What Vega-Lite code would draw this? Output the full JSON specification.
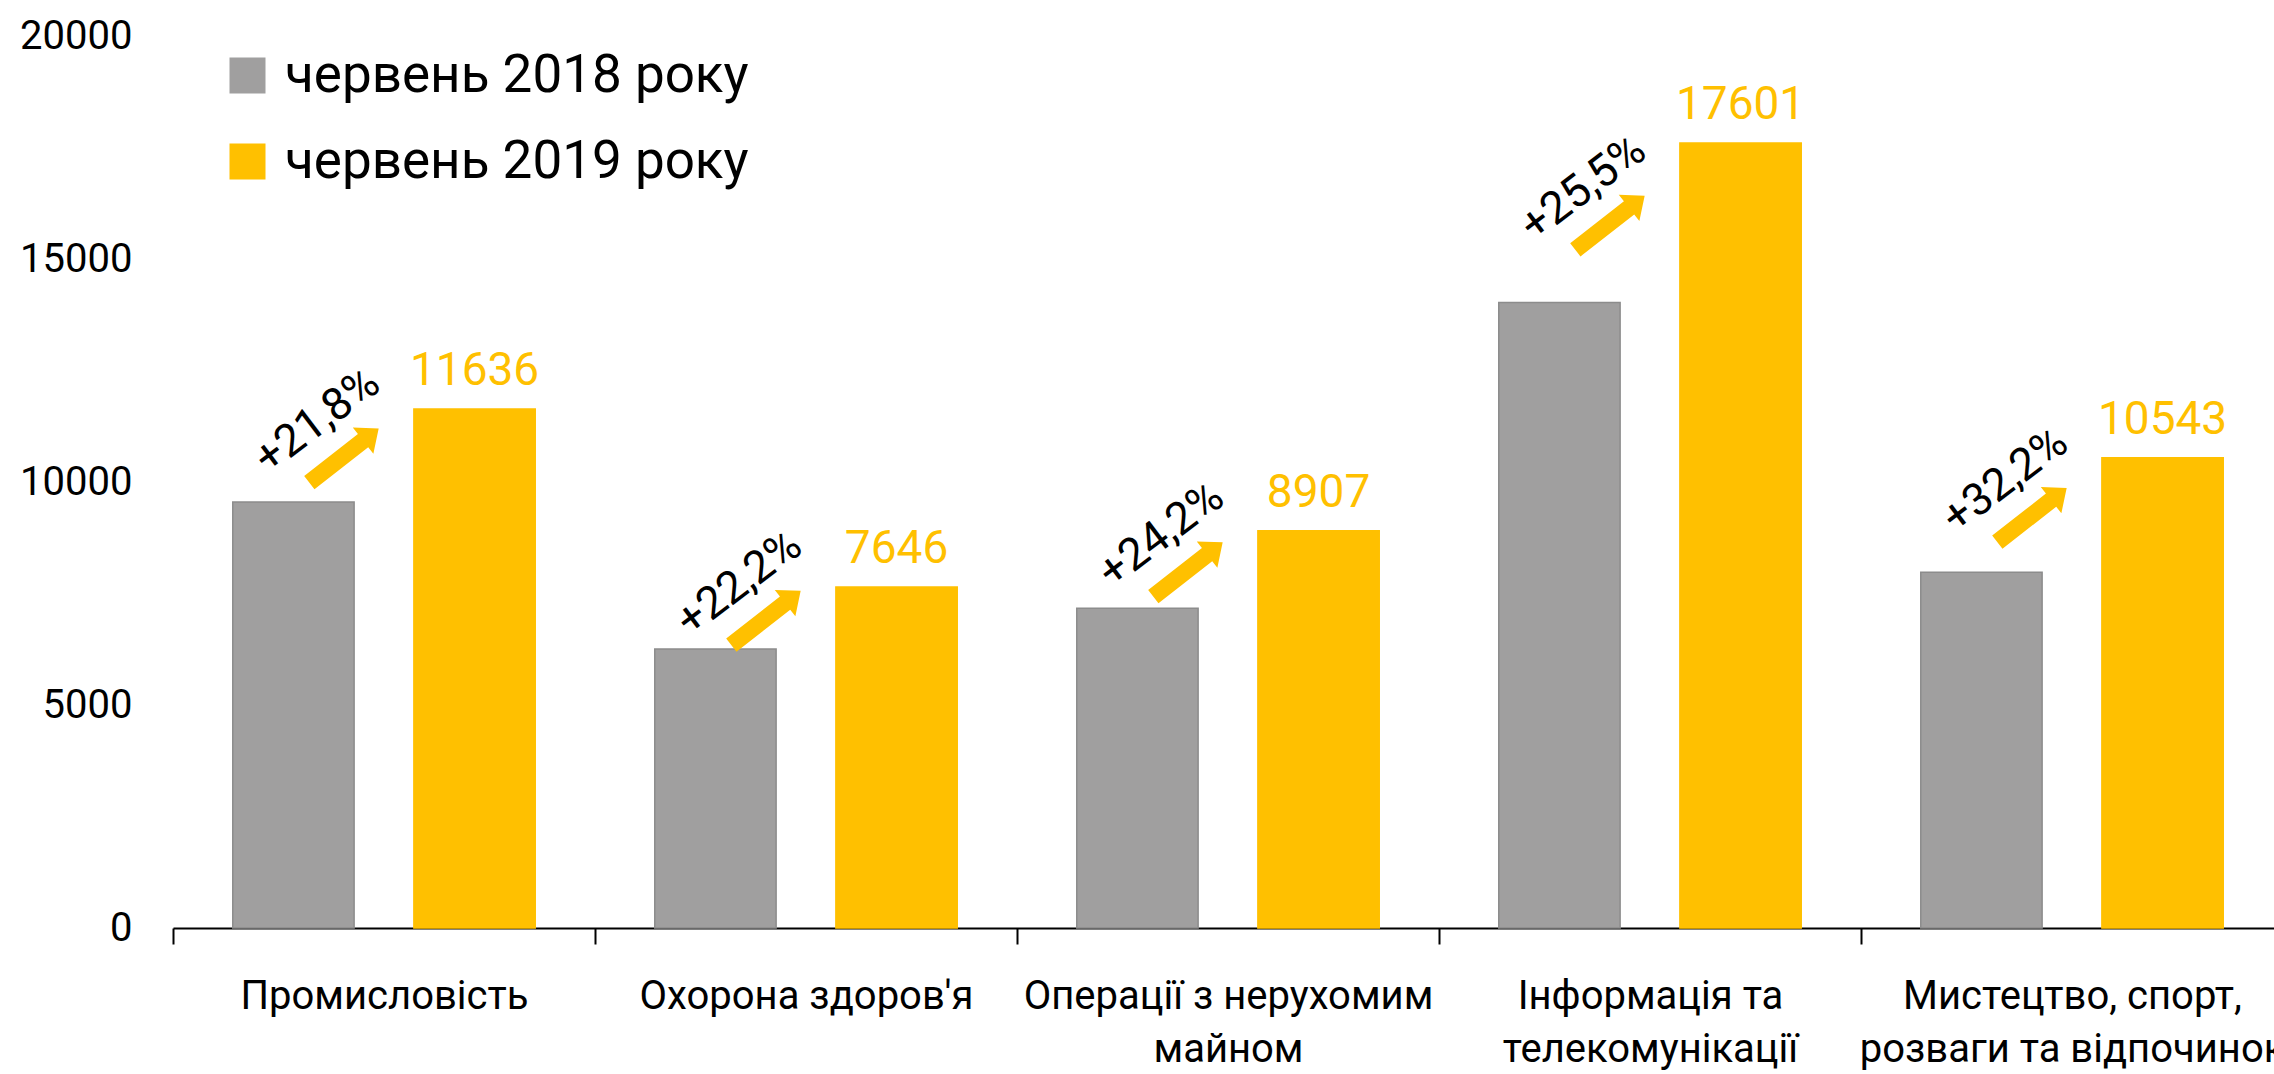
{
  "$schema": "https://vega.github.io/schema/vega-lite/v6.json",
  "width": 2110,
  "height": 892,
  "autosize": {"type": "none"},
  "padding": {"left": 173, "top": 36, "right": 0, "bottom": 146},
  "background": "white",
  "config": {
    "font": "Roboto",
    "view": {"stroke": null},
    "axisY": {"domain": false, "ticks": false, "tickSize": 0, "grid": false, "labelFontSize": 40, "labelColor": "#000000", "labelPadding": 41, "tickCount": 4, "format": "d"}
  },
  "data": {
    "values": [
      {"category": "Промисловість", "year": "червень 2018 року", "value": 9553, "growth": "+21,8%"},
      {"category": "Промисловість", "year": "червень 2019 року", "value": 11636, "growth": "+21,8%"},
      {"category": "Охорона здоров'я", "year": "червень 2018 року", "value": 6257, "growth": "+22,2%"},
      {"category": "Охорона здоров'я", "year": "червень 2019 року", "value": 7646, "growth": "+22,2%"},
      {"category": "Операції з нерухомим майном", "year": "червень 2018 року", "value": 7171, "growth": "+24,2%"},
      {"category": "Операції з нерухомим майном", "year": "червень 2019 року", "value": 8907, "growth": "+24,2%"},
      {"category": "Інформація та телекомунікації", "year": "червень 2018 року", "value": 14025, "growth": "+25,5%"},
      {"category": "Інформація та телекомунікації", "year": "червень 2019 року", "value": 17601, "growth": "+25,5%"},
      {"category": "Мистецтво, спорт, розваги та відпочинок", "year": "червень 2018 року", "value": 7975, "growth": "+32,2%"},
      {"category": "Мистецтво, спорт, розваги та відпочинок", "year": "червень 2019 року", "value": 10543, "growth": "+32,2%"}
    ]
  },
  "encoding": {
    "x": {
      "field": "category",
      "type": "nominal",
      "sort": null,
      "scale": {"paddingInner": 0, "paddingOuter": 0},
      "axis": {
        "title": null,
        "labelAngle": 0,
        "labelFontSize": 40,
        "labelColor": "#000000",
        "labelPadding": 32,
        "labelLineHeight": 53,
        "labelLimit": 2000,
        "labelOverlap": false,
        "tickBand": "extent",
        "tickSize": 16,
        "tickColor": "#000000",
        "tickWidth": 2,
        "domainColor": "#000000",
        "domainWidth": 2,
        "labelExpr": "datum.label == 'Операції з нерухомим майном' ? ['Операції з нерухомим', 'майном'] : datum.label == 'Інформація та телекомунікації' ? ['Інформація та', 'телекомунікації'] : datum.label == 'Мистецтво, спорт, розваги та відпочинок' ? ['Мистецтво, спорт,', 'розваги та відпочинок'] : datum.label"
      }
    }
  },
  "layer": [
    {
      "mark": {"type": "bar", "strokeWidth": 1.5},
      "encoding": {
        "xOffset": {"field": "year", "type": "nominal", "scale": {"paddingInner": 0.33, "paddingOuter": 0.33}},
        "y": {"field": "value", "type": "quantitative", "title": null, "scale": {"domain": [0, 20000]}},
        "color": {
          "field": "year",
          "type": "nominal",
          "scale": {"domain": ["червень 2018 року", "червень 2019 року"], "range": ["#A09F9F", "#FFC000"]},
          "legend": {
            "orient": "none",
            "legendX": 48,
            "legendY": 13,
            "title": null,
            "symbolType": "square",
            "symbolSize": 1296,
            "symbolStrokeWidth": 0,
            "labelFontSize": 53,
            "labelColor": "#000000",
            "labelLimit": 2000,
            "labelOffset": 11,
            "rowPadding": 32,
            "padding": 0
          }
        },
        "stroke": {
          "field": "year",
          "type": "nominal",
          "scale": {"domain": ["червень 2018 року", "червень 2019 року"], "range": ["#8C8C8C", "#FFC000"]},
          "legend": null
        }
      }
    },
    {
      "transform": [{"filter": "datum.year == 'червень 2019 року'"}],
      "mark": {"type": "text", "dy": -24, "fontSize": 46, "color": "#FFC000", "baseline": "alphabetic", "align": "center"},
      "encoding": {
        "xOffset": {"field": "year", "type": "nominal"},
        "y": {"field": "value", "type": "quantitative", "title": null},
        "text": {"field": "value", "type": "quantitative", "format": "d"}
      }
    },
    {
      "mark": {
        "type": "point",
        "shape": "M-1,-0.19L0.55,-0.19L0.55,-0.38L1,0L0.55,0.38L0.55,0.19L-1,0.19Z",
        "size": 7744,
        "angle": -38,
        "filled": true,
        "color": "#FFC000",
        "opacity": 1,
        "strokeWidth": 0,
        "xOffset": -40
      },
      "encoding": {
        "y": {"aggregate": "mean", "field": "value", "type": "quantitative", "title": null}
      }
    },
    {
      "mark": {
        "type": "text",
        "angle": -37,
        "fontSize": 45,
        "color": "#000000",
        "align": "center",
        "baseline": "middle",
        "xOffset": -67,
        "yOffset": -35
      },
      "encoding": {
        "y": {"aggregate": "mean", "field": "value", "type": "quantitative", "title": null},
        "text": {"field": "growth", "type": "nominal"}
      }
    }
  ]
}
